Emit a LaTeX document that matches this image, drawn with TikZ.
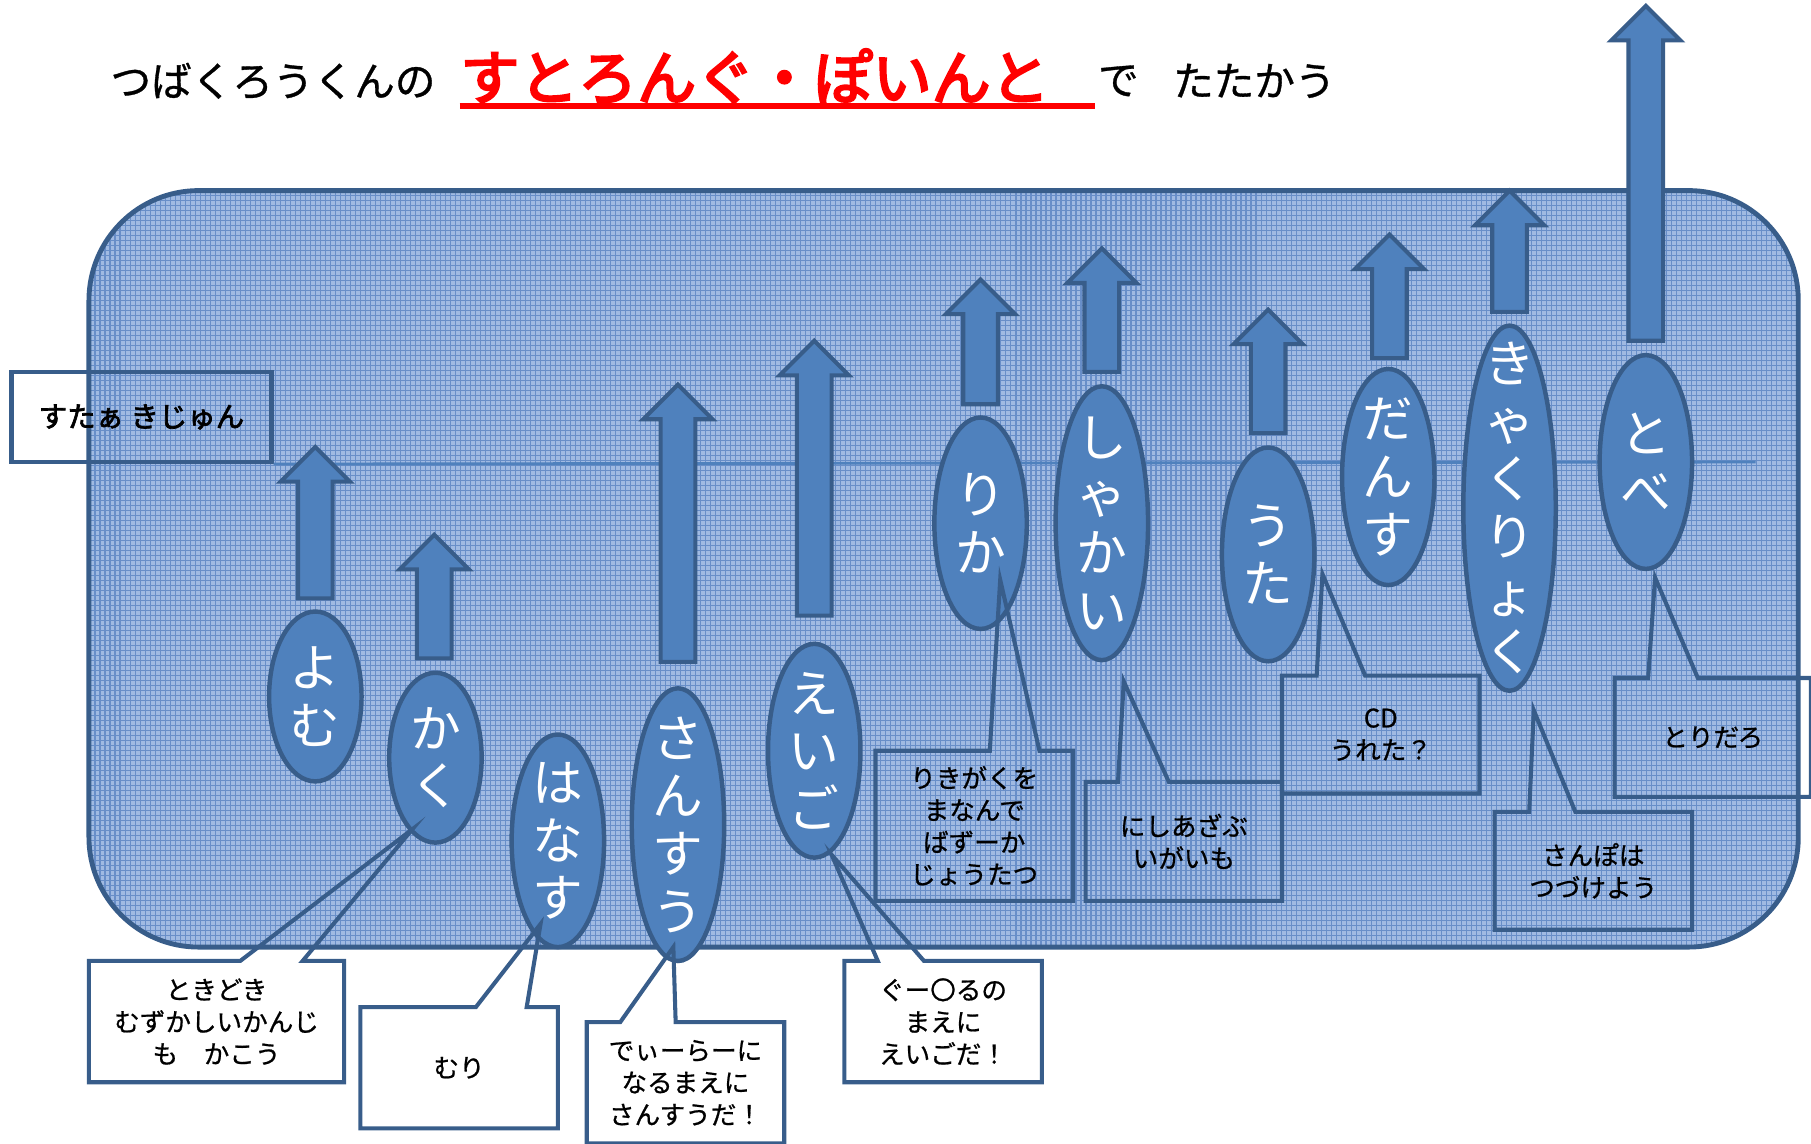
\documentclass[tikz,border=0pt]{standalone}
\usepackage{fontspec}
\setmainfont{Noto Sans CJK JP}
\newfontfamily\popfont[FakeBold=4]{Noto Sans CJK JP}
\newfontfamily\boldjp[FakeBold=2.5]{Noto Sans CJK JP}
\newfontfamily\notejp[FakeBold=0.8]{Noto Sans CJK JP}
\usetikzlibrary{shapes.geometric}

\definecolor{officeblue}{HTML}{4F81BD}
\definecolor{edgeblue}{HTML}{385D8A}
\definecolor{paneblue}{RGB}{160,186,226}
\definecolor{gridblue}{RGB}{104,142,200}

\tikzset{
  pill/.style={ellipse, draw=edgeblue, fill=officeblue, line width=1.1pt,
    minimum width=0.8cm, inner sep=0pt},
  pilltext/.style={text=white, align=center, inner sep=0pt,
    font=\fontsize{12.5}{14.2}\selectfont},
  uparrow/.style={draw=edgeblue, fill=officeblue, line width=1pt},
  callout/.style={draw=edgeblue, line width=1pt},
  notetext/.style={align=center, inner sep=0pt, font=\notejp\fontsize{6.3}{7.9}\selectfont},
  headline/.style={anchor=west, inner sep=0pt, font=\notejp\fontsize{10}{12}\selectfont}
}

\begin{document}
\begin{tikzpicture}[x=0.01cm, y=-0.01cm]
% the page: 1568 x 990 units, y grows downwards
\useasboundingbox (0,0) rectangle (1568,990);
\clip (0,0) rectangle (1568,990);

% the big panel, filled with a fine grid
\fill[paneblue, rounded corners=0.95cm] (77,165) rectangle (1557,820);
\begin{scope}
  \clip[rounded corners=0.95cm] (77,165) rectangle (1557,820);
  \draw[gridblue, line width=0.3pt, step=0.0433cm] (60,150) grid (1570,830);
\end{scope}
\draw[edgeblue, line width=1.2pt, rounded corners=0.95cm] (77,165) rectangle (1557,820);

% standard level
\node[draw=edgeblue, line width=1pt, minimum width=2.25cm, minimum height=0.78cm,
  font=\boldjp\fontsize{7}{8}\selectfont] (standard) at (122.5,361) {すたぁ きじゅん};
\draw[officeblue, line width=0.7pt] (standard.south east) -- (1520,400);

% block arrows: centre / top / bottom
\foreach \cx/\ytop/\ybot in {273/387/518, 376/463/570, 587/333/573, 705/295/533,
  849/242/350, 954/215/322, 1098/268/375, 1203/203/310, 1307/165/270, 1425/5/295}
  \draw[uparrow] ({\cx-15},\ybot) -- ({\cx-15},{\ytop+30}) -- ({\cx-30},{\ytop+30})
    -- (\cx,\ytop) -- ({\cx+30},{\ytop+30}) -- ({\cx+15},{\ytop+30}) -- ({\cx+15},\ybot) -- cycle;

% skills
\foreach \skill/\x/\y/\h/\word in {yomu/273/603/1.47/{よ\\む}, kaku/377/656/1.47/{か\\く},
  hanasu/483/728/1.84/{は\\な\\す}, sansu/587/714/2.36/{さ\\ん\\す\\う},
  eigo/705/650/1.85/{え\\い\\ご}, rika/849/453/1.83/{り\\か},
  shakai/954/453/2.37/{し\\ゃ\\か\\い}, uta/1098/480/1.85/{う\\た},
  dansu/1202/413/1.87/{だ\\ん\\す}, kyakuryoku/1307/440/3.16/{き\\ゃ\\く\\り\\ょ\\く},
  tobe/1425/400/1.85/{と\\べ}}
{
  \node[pill, minimum height=\h cm] (\skill) at (\x,\y) {};
  \node[pilltext] (\skill-word) at (\skill) {\word};
}

% callouts: box corners / pointer base / tip / text
\foreach \xa/\ya/\xb/\yb/\pa/\pb/\tx/\ty/\note [count=\i] in {
  77/832/298/937/208/262/357/718/{ときどき\\むずかしいかんじ\\も　かこう},
  312/872/483/977/412/456/468/800/{むり},
  508/885/679/990/537/585/583/820/{でぃーらーに\\なるまえに\\さんすうだ！},
  731/832/902/937/760/800/720/740/{ぐー〇るの\\まえに\\えいごだ！},
  758/650/929/780/857/900/866/502/{りきがくを\\まなんで\\ばずーか\\じょうたつ},
  940/677/1110/780/968/1012/973/590/{にしあざぶ\\いがいも},
  1110/585/1281/687/1140/1182/1145/497/{CD\\うれた？},
  1294/703/1465/805/1324/1364/1328/615/{さんぽは\\つづけよう},
  1398/587/1568/690/1427/1470/1433/500/{とりだろ}}
{
  \draw[callout] (\xa,\ya) -- (\pa,\ya) -- (\tx,\ty) -- (\pb,\ya) -- (\xb,\ya)
    -- (\xb,\yb) -- (\xa,\yb) -- cycle;
  \node[notetext] (note\i) at ({(\xa+\xb)/2},{(\ya+\yb)/2}) {\note};
}

% title
\node[headline] (owner) at (95,70) {つばくろうくんの};
\node[headline, text=red, font=\popfont\fontsize{14.5}{16}\selectfont] (point) at (398,66) {すとろんぐ・ぽいんと};
\draw[red, line width=1.4pt] (398,92) -- (948,92);
\node[headline] (de) at (950,70) {で};
\node[headline] (fight) at (1015,70) {たたかう};

\end{tikzpicture}
\end{document}
